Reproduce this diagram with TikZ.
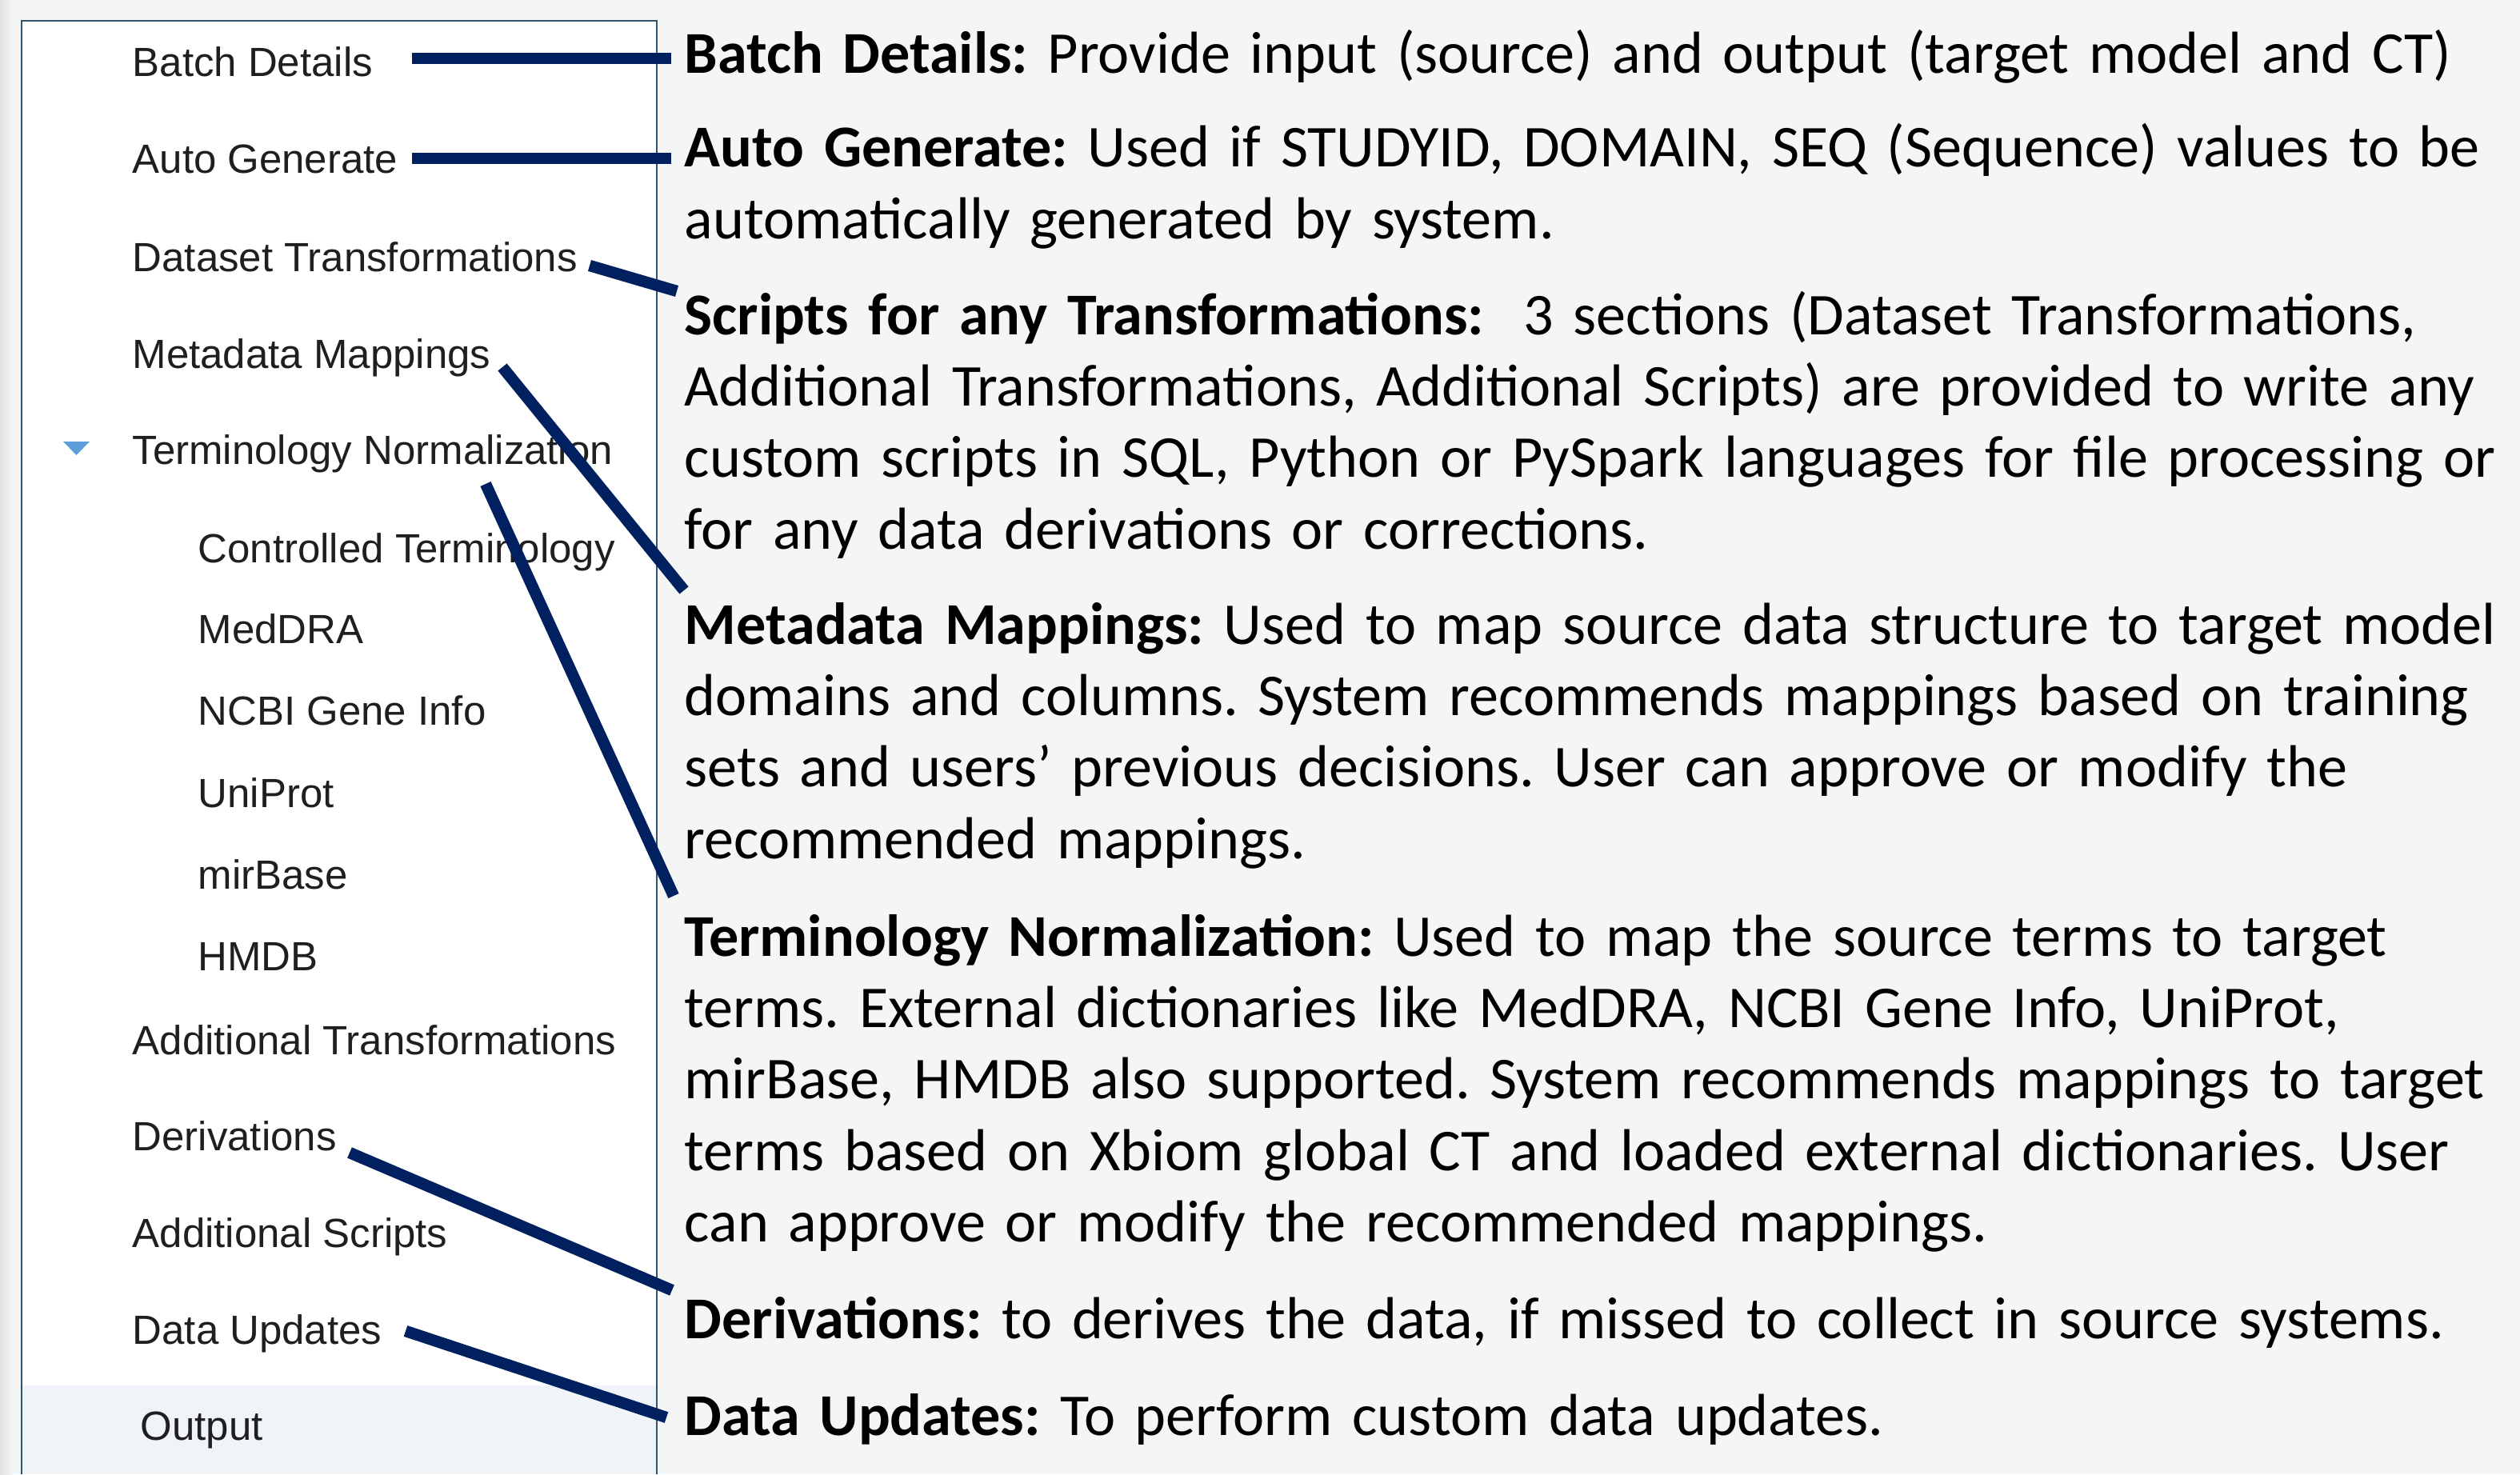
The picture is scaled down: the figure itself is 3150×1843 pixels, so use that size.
\documentclass[tikz,border=0pt]{standalone}
\usepackage{fontspec}
\setmainfont{Carlito}
\newfontfamily\uifont{Liberation Sans}
\usetikzlibrary{calc}
\definecolor{pagebg}{HTML}{F4F5F5}
\definecolor{pageshade}{HTML}{E2E4E4}
\definecolor{panelline}{HTML}{305573}
\definecolor{outputbg}{HTML}{F0F4F8}
\definecolor{navy}{HTML}{002060}
\definecolor{caret}{HTML}{5E9DDB}
\frenchspacing
\begin{document}
\begin{tikzpicture}[x=0.1mm,y=-0.1mm,
  menu/.style={anchor=base west, inner sep=0pt, text=black!88,
    font=\uifont\fontsize{14.5pt}{17pt}\selectfont},
  desc/.style={anchor=base west, inner sep=0pt, text width=229mm, align=left,
    font=\fontsize{21.1pt}{25.45pt}\selectfont},
  link/.style={draw=navy, line width=4.1pt}]
% page with a soft shadow along its left edge, and the side menu panel
\fill[pagebg] (0,0) rectangle (3150,1843);
\useasboundingbox (0,0) rectangle (3150,1843);
\shade[left color=pageshade, right color=pagebg] (0,0) rectangle (16,1843);
\fill[white] (27,26) rectangle (821,1843);
\fill[outputbg] (28,1732) rectangle (820,1843);
\draw[panelline, line width=0.6pt] (27,1843) -- (27,26) -- (821,26) -- (821,1843);
\fill[caret] (79,552) -- (112,552) -- (95.5,569) -- cycle;

% menu entries
\node[menu] (mBatch) at (165,96) {Batch Details};
\node[menu] (mAuto) at (165,217) {Auto Generate};
\node[menu] (mDataset) at (165,339) {Dataset Transformations};
\node[menu] (mMeta) at (165,460) {Metadata Mappings};
\node[menu] (mTerm) at (165,580) {Terminology Normalization};
\node[menu] (mCT) at (247,703) {Controlled Terminology};
\node[menu] (mMed) at (247,804) {MedDRA};
\node[menu] (mNCBI) at (247,906) {NCBI Gene Info};
\node[menu] (mUni) at (247,1009) {UniProt};
\node[menu] (mMir) at (247,1111) {mirBase};
\node[menu] (mHMDB) at (247,1213) {HMDB};
\node[menu] (mAddT) at (165,1318) {Additional Transformations};
\node[menu] (mDeriv) at (165,1438) {Derivations};
\node[menu] (mAddS) at (165,1559) {Additional Scripts};
\node[menu] (mUpd) at (165,1680) {Data Updates};
\node[menu] (mOut) at (175,1800) {Output};

% descriptions
\node[desc] (dBatch) at (855,92) {\textbf{Batch Details:} Provide input (source) and output (target model and CT)};
\node[desc] (dAuto) at (855,209) {\textbf{Auto Generate:} Used if STUDYID, DOMAIN, SEQ (Sequence) values to be\\
automatically generated by system.};
\node[desc] (dScripts) at (855,418) {\textbf{Scripts for any Transformations:}\ \ 3 sections (Dataset Transformations,\\
Additional Transformations, Additional Scripts) are provided to write any\\
custom scripts in SQL, Python or PySpark languages for file processing or\\
for any data derivations or corrections.};
\node[desc] (dMeta) at (855,805) {\textbf{Metadata Mappings:} Used to map source data structure to target model\\
domains and columns. System recommends mappings based on training\\
sets and users’ previous decisions. User can approve or modify the\\
recommended mappings.};
\node[desc] (dTerm) at (855,1195) {\textbf{Terminology Normalization:} Used to map the source terms to target\\
terms. External dictionaries like MedDRA, NCBI Gene Info, UniProt,\\
mirBase, HMDB also supported. System recommends mappings to target\\
terms based on Xbiom global CT and loaded external dictionaries. User\\
can approve or modify the recommended mappings.};
\node[desc] (dDeriv) at (855,1673) {\textbf{Derivations:} to derives the data, if missed to collect in source systems.};
\node[desc] (dUpd) at (855,1794) {\textbf{Data Updates:} To perform custom data updates.};

% connectors from menu entries to their descriptions
\draw[link] ($(mBatch.base west)+(350,-23)$) -- ($(dBatch.base west)+(-16,-19)$);
\draw[link] ($(mAuto.base west)+(350,-19)$) -- ($(dAuto.base west)+(-16,-11)$);
\draw[link] ($(mDataset.base west)+(572,-7)$) -- ($(dScripts.base west)+(-9,-54)$);
\draw[link] ($(mMeta.base west)+(463,-1)$) -- ($(dMeta.base west)+(0,-67)$);
\draw[link] ($(mTerm.base west)+(442,25)$) -- ($(dTerm.base west)+(-13,-75)$);
\draw[link] ($(mDeriv.base west)+(272,3)$) -- ($(dDeriv.base west)+(-15,-60)$);
\draw[link] ($(mUpd.base west)+(342,-16)$) -- ($(dUpd.base west)+(-22,-22)$);
\end{tikzpicture}
\end{document}
